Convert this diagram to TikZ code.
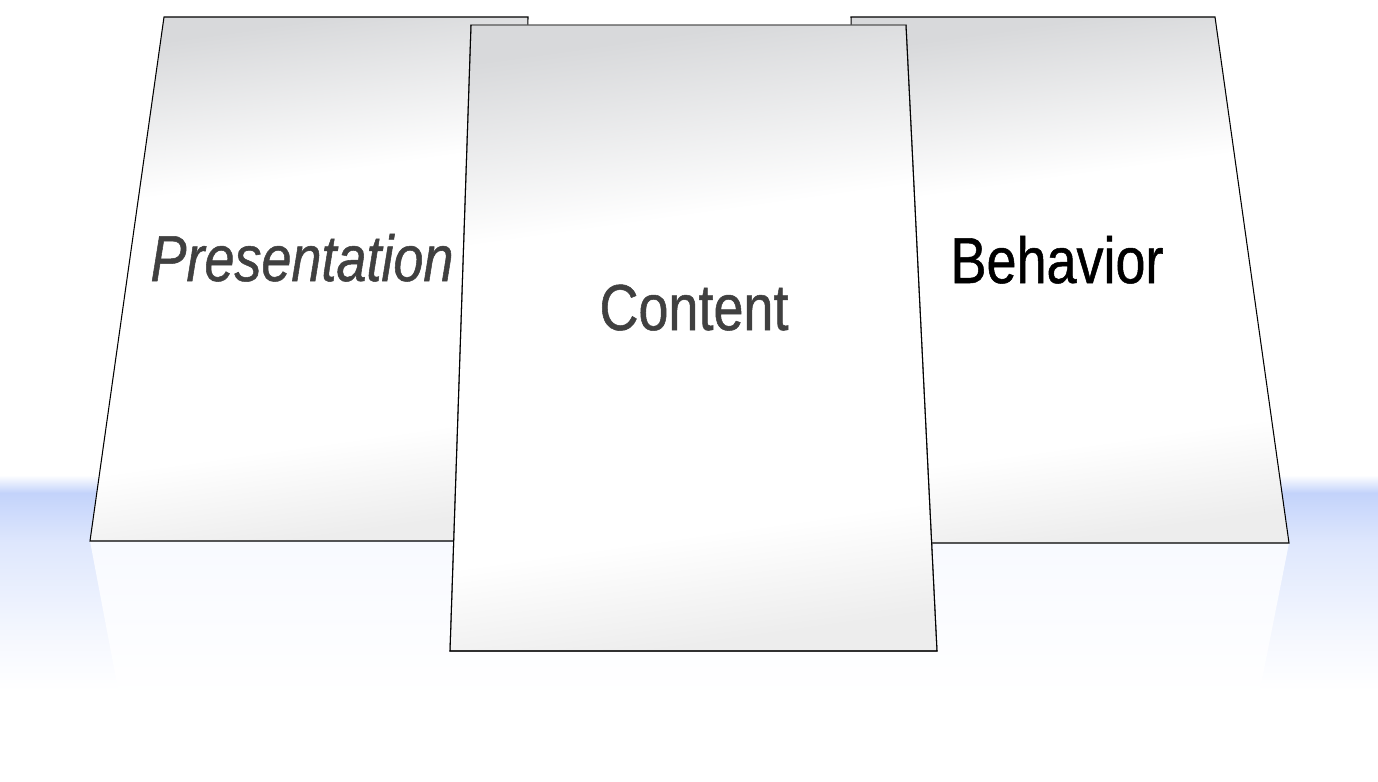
\documentclass[tikz,border=0pt]{standalone}
\usepackage{fontspec}
\usepackage{tikz}
\usetikzlibrary{positioning}
\newfontfamily\narrowfont[FakeStretch=0.83,FakeBold=0.8]{Liberation Sans}
\definecolor{bandblue}{HTML}{C3D3FB}
\definecolor{textgray}{HTML}{404040}
\definecolor{edgegray}{HTML}{555555}
\definecolor{paneltop}{HTML}{D8D9DB}
\pgfdeclareverticalshading{panelfill}{100bp}{color(0bp)=(black!7); color(25bp)=(black!7); color(34bp)=(white); color(60bp)=(white); color(75bp)=(paneltop); color(100bp)=(paneltop)}
\pgfdeclareverticalshading{bandfill}{100bp}{color(0bp)=(white); color(27bp)=(white); color(40bp)=(bandblue!18); color(60bp)=(bandblue!55); color(71bp)=(bandblue); color(75bp)=(white); color(100bp)=(white)}
\pgfdeclareverticalshading{mirrorfill}{100bp}{color(0bp)=(white); color(25bp)=(white); color(75bp)=(bandblue!12); color(100bp)=(bandblue!12)}

\begin{document}
\begin{tikzpicture}
            [x=0.02cm,y=-0.02cm,
            panel/.style={shading=panelfill,shading angle=8,draw=black,line width=0.6pt},
            label/.style={font=\narrowfont\fontsize{37}{40}\selectfont,anchor=base,inner sep=0pt}]
            \useasboundingbox (0,0) rectangle (1378,781);
            % floor band
            \shade[shading=bandfill] (0,475) rectangle (1378,700);
            \shade[shading=mirrorfill] (90,541) -- (1289,543) -- (1258,700) -- (120,700) -- cycle;
            % side panels
            \path[panel] (164,17) -- (528,17) -- (520,541) -- (90,541) -- cycle;
            \path[panel] (851,17) -- (1215,17) -- (1289,543) -- (858,543) -- cycle;
            % front panel
            \path[panel,draw=edgegray] (471,25) -- (906,25) -- (937,651) -- (450,651) -- cycle;
            \draw[line width=0.6pt] (471,25) -- (450,651) -- (937,651) -- (906,25);
            \node[label,text=textgray,font=\narrowfont\itshape\fontsize{37}{40}\selectfont] (present) at (302,281) {Presentation};
            \node[label,text=textgray] (content) at (694,330) {Content};
            \node[label,text=black] (behave) at (1057,283) {Behavior};
        \end{tikzpicture}
\end{document}
